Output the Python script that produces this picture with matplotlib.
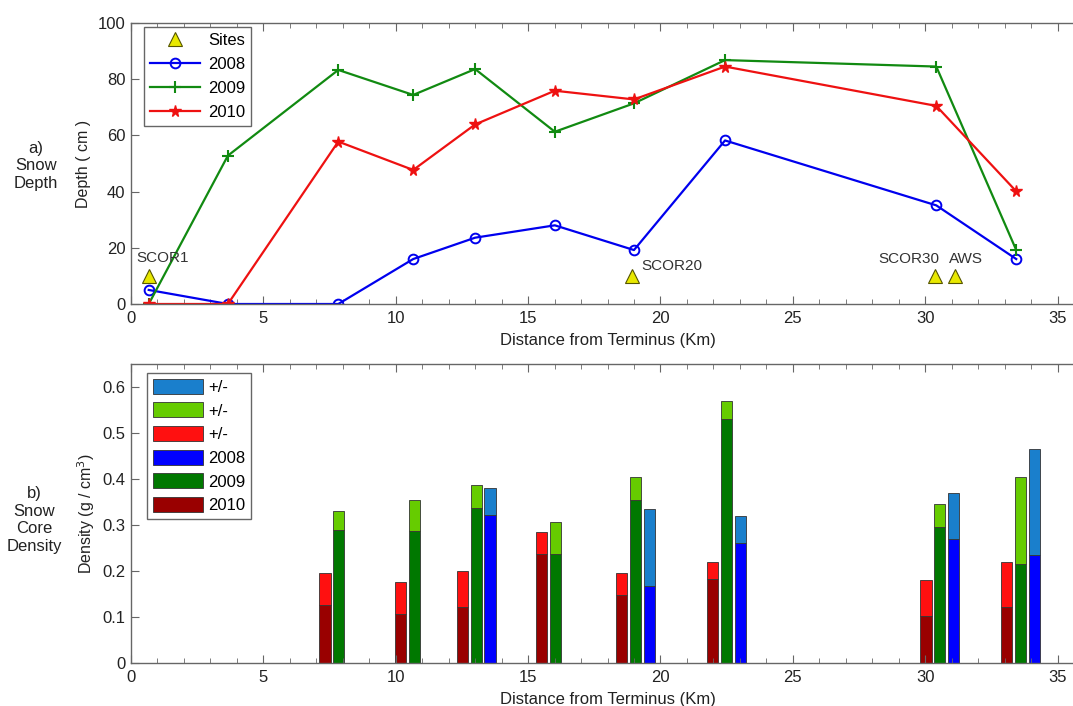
import numpy as np
import matplotlib
matplotlib.use("Agg")
import matplotlib.pyplot as plt
from matplotlib.ticker import MultipleLocator
from matplotlib.patches import Patch

plt.rcParams["font.family"] = ["Liberation Sans", "DejaVu Sans"]

# snow depth survey points (km from terminus, cm)
dist_depth = [0.67, 3.66, 7.83, 10.66, 13.0, 16.01, 19.0, 22.44, 30.42, 33.44]
depth_2008 = [5.0, 0.0, 0.0, 16.0, 23.6, 28.0, 19.2, 58.2, 35.1, 16.0]
depth_2009 = [0.0, 52.8, 83.3, 74.4, 83.6, 61.3, 71.4, 86.8, 84.5, 19.2]
depth_2010 = [0.0, 0.0, 57.8, 47.7, 63.9, 75.9, 72.8, 84.5, 70.5, 40.1]

site_names = ["SCOR1", "SCOR20", "SCOR30", "AWS"]
site_dist = [0.67, 18.92, 30.37, 31.11]
site_level = 10

# snow core density (g/cm3) with +/- ranges
dist_core = [7.85, 10.71, 13.04, 16.04, 19.05, 22.5, 30.55, 33.6]
dens_2010 = [0.126, 0.107, 0.122, 0.236, 0.147, 0.182, 0.102, 0.122]
err_2010 = [0.069, 0.069, 0.078, 0.049, 0.048, 0.038, 0.078, 0.098]
dens_2009 = [0.290, 0.287, 0.336, 0.236, 0.355, 0.531, 0.296, 0.215]
err_2009 = [0.040, 0.068, 0.050, 0.070, 0.050, 0.039, 0.050, 0.190]
dens_2008 = [np.nan, np.nan, 0.321, np.nan, 0.166, 0.261, 0.270, 0.235]
err_2008 = [np.nan, np.nan, 0.059, np.nan, 0.169, 0.059, 0.100, 0.230]

W, H = 1073, 706
fig = plt.figure(figsize=(W / 100, H / 100), dpi=100)
ax1 = fig.add_axes([131 / W, (H - 304) / H, 953 / W, 281 / H])
ax2 = fig.add_axes([131 / W, (H - 662.7) / H, 953 / W, 298.4 / H])

spine_col = "#666666"
txt_col = "#222222"


def style_axes(ax):
    for s in ax.spines.values():
        s.set_color(spine_col)
        s.set_linewidth(1.0)
    ax.set_xlim(0, 36)
    ax.xaxis.set_major_locator(MultipleLocator(5))
    ax.xaxis.set_minor_locator(MultipleLocator(1))
    ax.tick_params(which="both", direction="in", top=True, right=True,
                   color=spine_col, labelsize=12, labelcolor=txt_col)
    ax.tick_params(which="major", length=6)
    ax.tick_params(which="minor", length=3.5)
    ax.tick_params(axis="x", pad=5)
    ax.tick_params(axis="y", pad=4)
    ax.set_xlabel("Distance from Terminus (Km)", fontsize=12, color=txt_col,
                  labelpad=5)


# a) snow depth
style_axes(ax1)
ax1.set_ylim(0, 100)
ax1.yaxis.set_major_locator(MultipleLocator(20))
l08, = ax1.plot(dist_depth, depth_2008, color="#0000ee", lw=1.6, marker="o",
                mfc="none", mec="#0000ee", ms=7, mew=1.4)
l09, = ax1.plot(dist_depth, depth_2009, color="#118a11", lw=1.6, marker="+",
                ms=8, mew=1.5)
l10, = ax1.plot(dist_depth, depth_2010, color="#ee1111", lw=1.6, marker="*",
                ms=8.5, mec="#ee1111")
tri, = ax1.plot(site_dist, [site_level] * len(site_dist), ls="none", marker="^",
                ms=10, mfc="#e8e800", mec="#555500", mew=0.8)

lab_style = dict(fontsize=11, color="#333333")
ax1.text(site_dist[0] - 0.46, site_level + 4.0, site_names[0], ha="left", va="bottom", **lab_style)
ax1.text(site_dist[1] + 0.35, site_level + 1.0, site_names[1], ha="left", va="bottom", **lab_style)
ax1.text(site_dist[2] + 0.15, site_level + 3.5, site_names[2], ha="right", va="bottom", **lab_style)
ax1.text(site_dist[3] - 0.2, site_level + 3.5, site_names[3], ha="left", va="bottom", **lab_style)

ax1.set_ylabel("Depth ( cm )", fontsize=11.5, color=txt_col, labelpad=5)
leg1 = ax1.legend([tri, l08, l09, l10], ["Sites", "2008", "2009", "2010"],
                  loc="upper left", bbox_to_anchor=(0.0136, 0.986), fontsize=12,
                  handlelength=3.0, handletextpad=0.5, borderpad=0.35,
                  labelspacing=0.55, fancybox=False, framealpha=1,
                  edgecolor=spine_col, borderaxespad=0)
leg1.get_frame().set_linewidth(1.0)

fig.text(36 / W, 1 - 166 / H, "a)\nSnow\nDepth", ha="center", va="center",
         fontsize=12, color=txt_col, linespacing=1.2)

# b) snow core density
style_axes(ax2)
ax2.set_ylim(0, 0.65)
ax2.yaxis.set_major_locator(MultipleLocator(0.1))
ax2.yaxis.set_major_formatter(plt.FuncFormatter(lambda v, p: "0" if v == 0 else f"{v:g}"))

xc = np.array(dist_core)
bw = 0.42
off = 0.52
edge = dict(edgecolor="#333333", linewidth=0.6)

c10, c10e = "#990000", "#ff1010"
c09, c09e = "#007800", "#66cc00"
c08, c08e = "#0000ff", "#1a7fcc"

ax2.bar(xc - off, dens_2010, bw, color=c10, **edge)
ax2.bar(xc - off, err_2010, bw, bottom=dens_2010, color=c10e, **edge)
ax2.bar(xc, dens_2009, bw, color=c09, **edge)
ax2.bar(xc, err_2009, bw, bottom=dens_2009, color=c09e, **edge)
ax2.bar(xc + off, dens_2008, bw, color=c08, **edge)
ax2.bar(xc + off, err_2008, bw, bottom=dens_2008, color=c08e, **edge)

ax2.set_ylabel("Density (g / cm$^3$)", fontsize=11.5, color=txt_col, labelpad=4)
handles = [Patch(facecolor=c, edgecolor="#333333", linewidth=0.6)
           for c in [c08e, c09e, c10e, c08, c09, c10]]
leg2 = ax2.legend(handles, ["+/-", "+/-", "+/-", "2008", "2009", "2010"],
                  loc="upper left", bbox_to_anchor=(0.0168, 0.971), fontsize=12,
                  handlelength=3.0, handleheight=1.0, handletextpad=0.3,
                  borderpad=0.35, labelspacing=0.45, fancybox=False,
                  framealpha=1, edgecolor=spine_col, borderaxespad=0)
leg2.get_frame().set_linewidth(1.0)

fig.text(34 / W, 1 - 520 / H, "b)\nSnow\nCore\nDensity", ha="center", va="center",
         fontsize=12, color=txt_col, linespacing=1.2)

fig.savefig("out.png", dpi=100)
